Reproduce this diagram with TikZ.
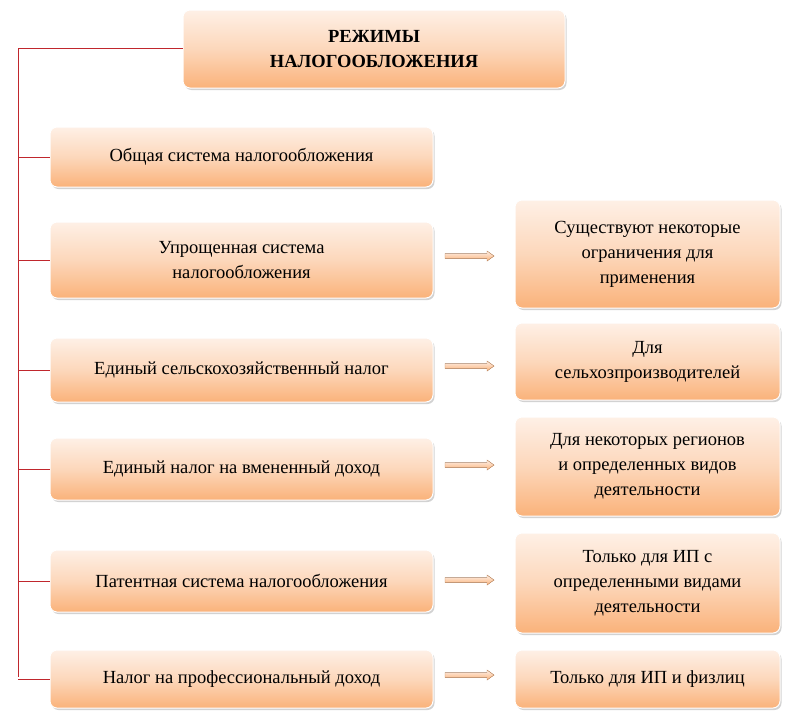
\documentclass[tikz,border=0pt]{standalone}
\usepackage{fontspec}
\setmainfont{Liberation Serif}
\usetikzlibrary{shadows}
\definecolor{topc}{HTML}{FEF0E6}
\definecolor{botc}{HTML}{FAB27A}
\definecolor{redl}{HTML}{C0272D}
\tikzset{
 bx/.style={rounded corners=7pt, draw=white, line width=1pt, top color=topc, bottom color=botc, middle color=topc!60!botc,
   drop shadow={shadow xshift=1.5pt,shadow yshift=-2pt,fill=black!35},
   align=center, font=\fontsize{18.5}{25}\selectfont, inner sep=0pt},
 br/.style={draw=redl, line width=0.7pt},
 ar/.style={top color=topc, bottom color=botc, draw=botc!80!black, line width=0.4pt}
}
\newcommand{\mkbox}[6]{\node[bx, minimum width=#3-#1, minimum height=#4-#2] (#5) at ({(#1+#3)/2},{(#2+#4)/2}) {#6};}
\newcommand{\mkarr}[2]{\fill[ar] (445,#2-2.5) -- (487,#2-2.5) -- (487,#2-5) -- (494,#2) -- (487,#2+5) -- (487,#2+2.5) -- (445,#2+2.5) -- cycle; \coordinate (#1) at (445,#2);}
\begin{document}
\begin{tikzpicture}[x=1pt,y=-1pt]
\useasboundingbox (0,0) rectangle (794,723);
\mkbox{183}{10}{565}{88}{t}{\textbf{РЕЖИМЫ}\\\textbf{НАЛОГООБЛОЖЕНИЯ}}
\mkbox{50}{127}{433}{187}{l1}{Общая система налогообложения}
\mkbox{50}{222}{433}{298}{l2}{Упрощенная система\\налогообложения}
\mkbox{50}{338}{433}{402}{l3}{Единый сельскохозяйственный налог}
\mkbox{50}{438}{433}{500}{l4}{Единый налог на вмененный доход}
\mkbox{50}{550}{433}{612}{l5}{Патентная система налогообложения}
\mkbox{50}{650}{433}{708}{l6}{Налог на профессиональный доход}
\mkbox{515}{200}{780}{308}{r2}{Существуют некоторые\\ограничения для\\применения}
\mkbox{515}{323}{780}{400}{r3}{Для\\сельхозпроизводителей}
\mkbox{515}{417}{780}{516}{r4}{Для некоторых регионов\\и определенных видов\\деятельности}
\mkbox{515}{533}{780}{633}{r5}{Только для ИП с\\определенными видами\\деятельности}
\mkbox{515}{650}{780}{708}{r6}{Только для ИП и физлиц}
\coordinate (top) at (18,48);
\coordinate (bot) at (18,677);
\draw[br] (t.west |- top) -- (top) -- (bot);
\foreach \n in {l1,l2,l3,l4,l5,l6} \draw[br] (top |- \n.west) -- (\n.west);
\mkarr{a2}{256}
\mkarr{a3}{366}
\mkarr{a4}{465}
\mkarr{a5}{580}
\mkarr{a6}{675}
\end{tikzpicture}
\end{document}
